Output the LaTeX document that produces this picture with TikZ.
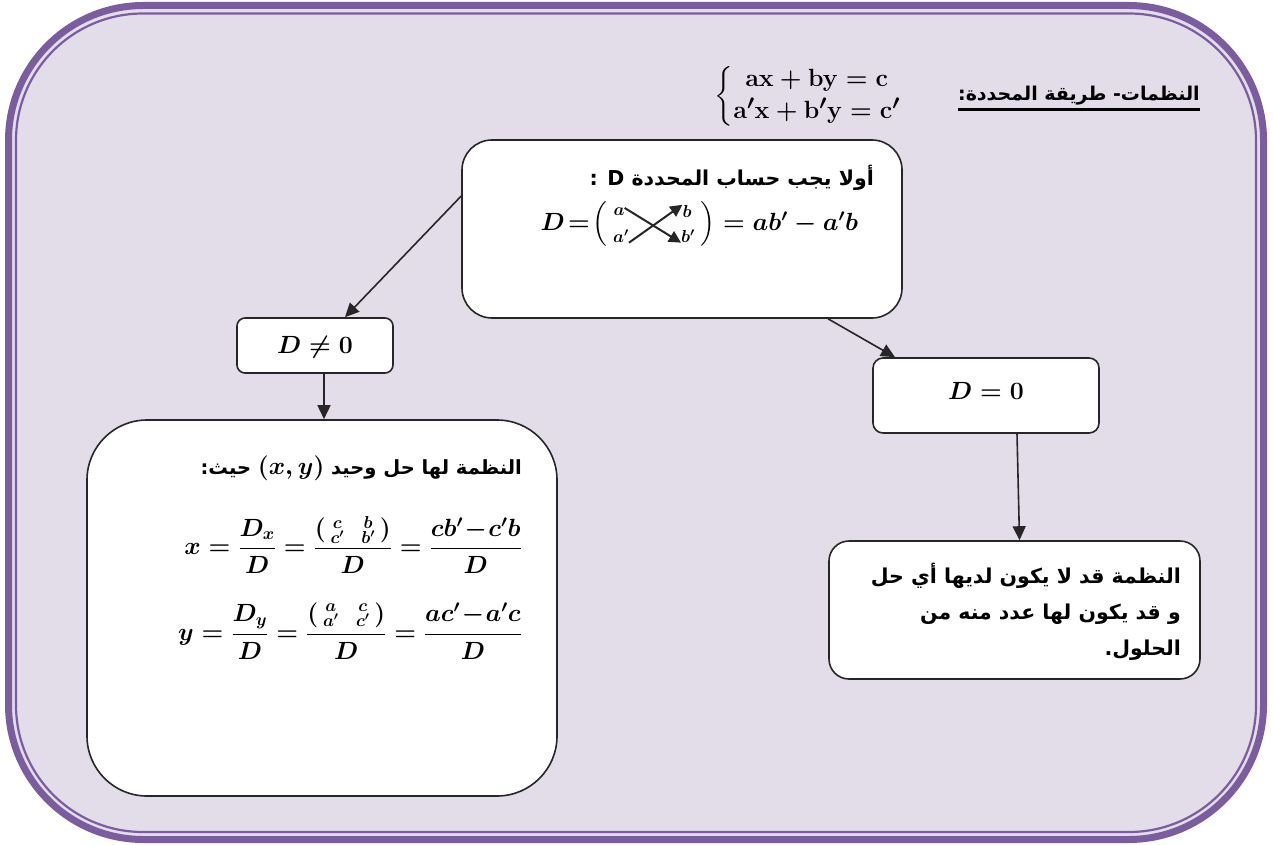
\documentclass[tikz,border=0pt]{standalone}
\usepackage{amsmath}
\usepackage{bm}
\usepackage{fontspec}
\newfontfamily\arabicfont[Script=Arabic]{DejaVu Sans}
\TeXXeTstate=1
\usetikzlibrary{arrows.meta}
\definecolor{framepurple}{HTML}{7B5C9F}
\definecolor{lavender}{HTML}{E3DDEA}
\tikzset{
  box/.style={draw=black!85, line width=1.6pt, fill=white, inner sep=0pt},
  arr/.style={draw=black!85, line width=1.6pt, -{Triangle[length=14pt,width=13pt]}},
  ar/.style={font=\arabicfont\bfseries\fontsize{20.5}{36}\selectfont, inner sep=0pt},
  mth/.style={font=\fontsize{24}{28}\selectfont\boldmath, inner sep=0pt},
  ent/.style={font=\fontsize{17}{18}\selectfont\boldmath, inner sep=0pt},
  crossarr/.style={draw=black!85, line width=2pt, -{Triangle[length=12pt,width=12pt]}}
}
\begin{document}
\begin{tikzpicture}[x=1pt,y=-1pt]
\useasboundingbox (0,0) rectangle (1273,845);
% frame
\draw[framepurple, line width=7pt, fill=lavender, rounded corners=135pt] (8.5,5.5) rectangle (1263.5,839.5);
\draw[framepurple, line width=2.2pt, rounded corners=127pt] (16,13.5) rectangle (1256,832);

% title
\node[ar, font=\arabicfont\bfseries\fontsize{19}{24}\selectfont, anchor=east] (title) at (1200,96) {\beginR النظمات- طريقة المحددة:\endR};
\draw[line width=2.5pt] ([yshift=-4pt]title.south west) -- ([yshift=-4pt]title.south east);

% system
\node[inner sep=0pt, font=\fontsize{30}{34}\selectfont\boldmath] (sys) at (808,96)
  {$\left\{\renewcommand{\arraystretch}{0.95}\begin{array}{@{}c@{}}\mathbf{ax+by=c}\\ \mathbf{a'x+b'y=c'}\end{array}\right.$};

% boxes
\node[box, minimum width=440pt, minimum height=178pt, rounded corners=30pt] (top) at (682,229) {};
\node[box, minimum width=156pt, minimum height=55pt, rounded corners=8pt] (dne) at (315,345.5) {};
\node[box, minimum width=226pt, minimum height=75pt, rounded corners=10pt] (dz) at (986,395.5) {};
\node[box, minimum width=470pt, minimum height=376pt, rounded corners=60pt] (big) at (322,608) {};
\node[box, minimum width=371pt, minimum height=138pt, rounded corners=20pt] (rb) at (1014.5,610) {};

% top box content
\node[ar, anchor=east] (t1) at (874,178) {: D \beginR أولا يجب حساب المحددة\endR};
\node[mth, anchor=east] (f1) at (608,224) {$D\!=\!\Big($};
\node[ent] (ea) at (619,212) {$a$};
\node[ent] (eap) at (621,236) {$a'$};
\node[ent] (eb) at (687,211) {$b$};
\node[ent] (ebp) at (688,236) {$b'$};
\node[mth, anchor=west] (f2) at (700,224) {$\Big)=ab'-a'b$};
\draw[crossarr] (ea.north east) -- (ebp.south west);
\draw[crossarr] (eap.south east) -- (eb.north west);

% D labels
\node[mth] (dnet) at (315,347) {$D\neq 0$};
\node[mth] (dzt) at (986,391) {$D=0$};

% left box content
\node[ar, font=\arabicfont\bfseries\fontsize{19.5}{24}\selectfont, anchor=east] (lt) at (522,468) {\beginR حيث:\endR\ {\fontsize{24}{28}\selectfont\boldmath$(x,y)$}\ \beginR النظمة لها حل وحيد\endR};
\node[inner sep=0pt, font=\fontsize{23}{28}\selectfont\boldmath, anchor=east] (fx) at (522,545)
  {$x=\dfrac{D_x}{D}=\dfrac{\left(\begin{smallmatrix}c&\;\;b\\ c'&\;\;b'\end{smallmatrix}\right)}{D}=\dfrac{cb'\!-\!c'b}{D}$};
\node[inner sep=0pt, font=\fontsize{23}{28}\selectfont\boldmath, anchor=east] (fy) at (522,631)
  {$y=\dfrac{D_y}{D}=\dfrac{\left(\begin{smallmatrix}a&\;\;c\\ a'&\;\;c'\end{smallmatrix}\right)}{D}=\dfrac{ac'\!-\!a'c}{D}$};

% right box content
\node[ar, anchor=north east, align=right] (rt) at (1181,563)
  {\beginR النظمة قد لا يكون لديها أي حل\endR\\ \beginR و قد يكون لها عدد منه من\endR\\ \beginR الحلول.\endR};

% connectors
\draw[arr] ([yshift=33pt]top.west) -- ([xshift=30pt]dne.north);
\draw[arr] ([xshift=9pt]dne.south) -- ([xshift=9pt]dne.south |- big.north);
\draw[arr] ([xshift=146pt]top.south) -- ([xshift=-91pt]dz.north);
\draw[arr] ([xshift=31pt]dz.south) -- ([xshift=5pt]rb.north);
\end{tikzpicture}
\end{document}
